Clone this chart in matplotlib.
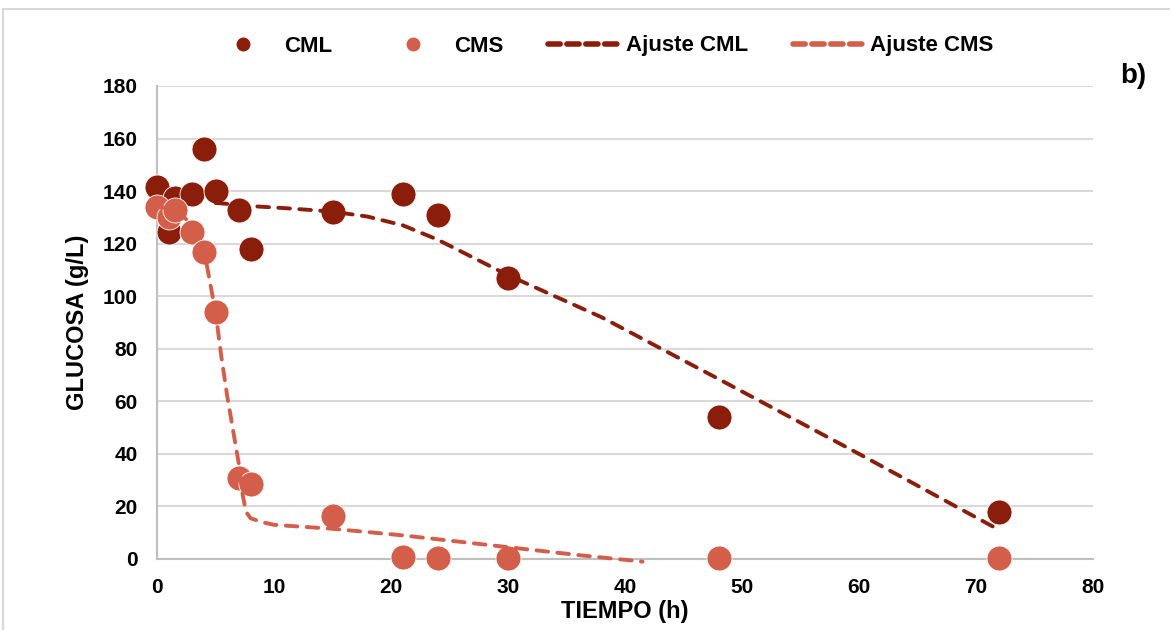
import matplotlib
matplotlib.use("Agg")
import matplotlib.pyplot as plt
from matplotlib.lines import Line2D
from matplotlib.patches import Rectangle

plt.rcParams['font.family'] = ['Liberation Sans', 'DejaVu Sans']
plt.rcParams['font.weight'] = 'bold'

# Data
t_cml = [0, 1, 1.5, 3, 4, 5, 7, 8, 15, 21, 24, 30, 48, 72]
g_cml = [141.5, 124.5, 137.5, 139, 156, 140, 133, 118, 132, 139, 131, 107, 54, 18]
t_cms = [0, 1, 1.5, 3, 4, 5, 7, 8, 15, 21, 24, 30, 48, 72]
g_cms = [134, 130, 133, 124.5, 117, 94, 31, 28.5, 16.5, 0.8, 0.3, 0.3, 0.3, 0.3]

t_fit_cml = [5, 7, 8, 11, 15, 18, 21, 24, 30, 38, 48, 60, 72]
g_fit_cml = [135.5, 134.8, 134.3, 133.5, 132.2, 130.3, 127, 121.5, 108, 92, 68.5, 40, 11]
t_fit_cms = [0, 1, 2, 3, 4, 5, 5.5, 6, 6.5, 7, 7.3, 7.6, 8, 9, 10, 15, 21, 24, 30, 36, 41.5]
g_fit_cms = [134, 133.5, 131.5, 127, 118, 94, 77, 62, 49, 36, 25, 18, 15.5, 14, 13, 11.5, 9, 7.5, 4.5, 1.5, -1]

c_cml = '#8B1E0B'
c_cms = '#D35F4B'

fig = plt.figure(figsize=(11.7, 6.3), dpi=100)
ax = fig.add_axes([0.1342, 0.1127, 0.8, 0.7508])

ax.plot(t_cml, g_cml, 'o', color=c_cml, ms=18, mec='white', mew=0.6, clip_on=False, zorder=3)
ax.plot(t_cms, g_cms, 'o', color=c_cms, ms=18, mec='white', mew=0.6, clip_on=False, zorder=4)
ax.plot(t_fit_cml, g_fit_cml, color=c_cml, lw=2.8, dashes=(3, 2.4), dash_capstyle='round', zorder=5, clip_on=False)
ax.plot(t_fit_cms, g_fit_cms, color=c_cms, lw=2.8, dashes=(3, 2.4), dash_capstyle='round', zorder=5, clip_on=False)

ax.set_xlim(0, 80)
ax.set_ylim(0, 180)
ax.set_xticks(range(0, 81, 10))
ax.set_yticks(range(0, 181, 20))
ax.tick_params(length=0, labelsize=15)
ax.tick_params(axis='x', pad=14)
ax.tick_params(axis='y', pad=14)
for lab in ax.get_xticklabels() + ax.get_yticklabels():
    lab.set_fontweight('bold')
ax.grid(axis='y', color='#d9d9d9', lw=1.5)
ax.set_axisbelow(True)
for s in ['top', 'right']:
    ax.spines[s].set_visible(False)
for s in ['left', 'bottom']:
    ax.spines[s].set_color('#bfbfbf')
    ax.spines[s].set_linewidth(1.5)

ax.set_xlabel('TIEMPO (h)', fontsize=17, fontweight='bold', labelpad=2)
ax.set_ylabel('GLUCOSA (g/L)', fontsize=17, fontweight='bold', labelpad=10)

handles = [
    Line2D([], [], ls='none', marker='o', color=c_cml, ms=9),
    Line2D([], [], ls='none', marker='o', color=c_cms, ms=9),
    Line2D([], [], color=c_cml, lw=4, dashes=(2.2, 1.2), dash_capstyle='round'),
    Line2D([], [], color=c_cms, lw=4, dashes=(2.2, 1.2), dash_capstyle='round'),
]
labels = ['CML', 'CMS', 'Ajuste CML', 'Ajuste CMS']
leg = fig.legend(handles, labels, loc='center', bbox_to_anchor=(600/1170, 1 - 46/630),
                 ncol=4, frameon=False, handlelength=3.3,
                 handletextpad=0.2, columnspacing=2.0, prop={'weight': 'bold', 'size': 16})

fig.text(1133/1170, 1 - 76/630, 'b)', fontsize=20, fontweight='bold', ha='center', va='center')

fig.patches.append(Rectangle((3/1170, -0.1), 1.2, 1.1 - 9/630, transform=fig.transFigure,
                             fill=False, edgecolor='#d9d9d9', lw=1.5))

fig.savefig('out.png', dpi=100)
